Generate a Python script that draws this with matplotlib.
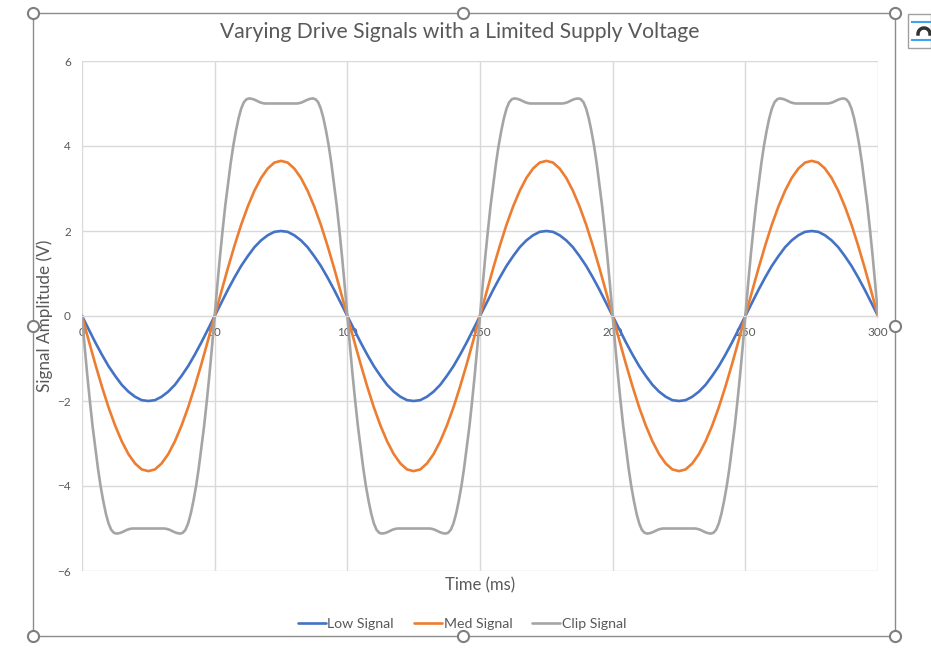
import matplotlib
matplotlib.use('Agg')
import matplotlib.pyplot as plt
import numpy as np
from matplotlib.lines import Line2D
from matplotlib.patches import Rectangle

plt.rcParams['font.family'] = ['Lato', 'DejaVu Sans']

# one half period (0..50 ms); the second half is the mirror with opposite sign
t_half_coarse = [0, 2.5, 5, 7.5, 10, 12.5, 15, 17.5, 20, 22.5, 25,
                 27.5, 30, 32.5, 35, 37.5, 40, 42.5, 45, 47.5, 50]
low_half = [0, -0.31, -0.62, -0.91, -1.18, -1.41, -1.62, -1.78, -1.90, -1.98, -2.0,
            -1.98, -1.90, -1.78, -1.62, -1.41, -1.18, -0.91, -0.62, -0.31, 0]
med_half = [0, -0.57, -1.13, -1.66, -2.15, -2.58, -2.95, -3.25, -3.47, -3.61, -3.65,
            -3.61, -3.47, -3.25, -2.95, -2.58, -2.15, -1.66, -1.13, -0.57, 0]

t_half_fine = list(range(0, 51))
clip_half = [0, -0.72, -1.40, -2.02, -2.60, -3.10, -3.58, -4.00, -4.35, -4.65,
             -4.88, -5.03, -5.10, -5.12, -5.11, -5.09, -5.06, -5.03, -5.01, -5.00,
             -5.00, -5.00, -5.00, -5.00, -5.00, -5.00, -5.00, -5.00, -5.00, -5.00,
             -5.00, -5.00, -5.01, -5.03, -5.06, -5.09, -5.11, -5.12, -5.10, -5.03,
             -4.88, -4.65, -4.35, -4.00, -3.58, -3.10, -2.60, -2.02, -1.40, -0.72, 0]

periods = 3
period_ms = 100

series_names = ['Low Signal', 'Med Signal', 'Clip Signal']
series_colors = ['#4472C4', '#ED7D31', '#A5A5A5']

title = 'Varying Drive Signals with a Limited Supply Voltage'
x_label = 'Time (ms)'
y_label = 'Signal Amplitude (V)'
x_ticks = [0, 50, 100, 150, 200, 250, 300]
y_ticks = [-6, -4, -2, 0, 2, 4, 6]


def full_wave(t_half, v_half):
    # build one period from the half, then repeat
    t_half = np.asarray(t_half, float)
    v_half = np.asarray(v_half, float)
    t_per = np.concatenate([t_half, t_half[1:] + t_half[-1]])
    v_per = np.concatenate([v_half, -v_half[1:]])
    ts, vs = [t_per], [v_per]
    for k in range(1, periods):
        ts.append(t_per[1:] + k * period_ms)
        vs.append(v_per[1:])
    return np.concatenate(ts), np.concatenate(vs)


W, H = 931, 671
fig = plt.figure(figsize=(W / 100, H / 100), dpi=100)


def fx(px):
    return px / W


def fy(py):
    return 1 - py / H


ax = fig.add_axes([fx(82), fy(571), fx(878) - fx(82), fy(61) - fy(571)])

for (th, vh), name, col in zip([(t_half_coarse, low_half),
                                (t_half_coarse, med_half),
                                (t_half_fine, clip_half)],
                               series_names, series_colors):
    t, v = full_wave(th, vh)
    ax.plot(t, v, color=col, lw=1.9, label=name, solid_capstyle='round')

grid_col = '#D9D9D9'
txt_col = '#595959'

ax.set_xlim(0, 300)
ax.set_ylim(-6, 6)
ax.set_xticks(x_ticks)
ax.set_yticks(y_ticks)
ax.grid(True, color=grid_col, lw=1.0)
ax.set_axisbelow(True)
for s in ['top', 'right', 'left']:
    ax.spines[s].set_visible(False)
ax.spines['bottom'].set_position(('data', 0))
ax.spines['bottom'].set_color(grid_col)
ax.tick_params(axis='both', length=0, labelsize=8.5, labelcolor=txt_col)
ax.tick_params(axis='x', pad=8)
ax.tick_params(axis='y', pad=8)

fig.text(fx(460), fy(32), title, ha='center', va='center', fontsize=15.2, color=txt_col)
fig.text(fx(480), fy(585), x_label, ha='center', va='center', fontsize=12, color=txt_col)
fig.text(fx(45), fy(316), y_label, ha='center', va='center', rotation=90,
         fontsize=12.3, color=txt_col)

fig.legend(loc='center', bbox_to_anchor=(fx(462), fy(624)), ncol=3, frameon=False,
           fontsize=10.2, labelcolor=txt_col, handlelength=2.0, handletextpad=0.1,
           columnspacing=1.4)

# selected-chart frame with handles
frame_col = '#8C8C8C'
fig.add_artist(Rectangle((fx(33), fy(636)), fx(895) - fx(33), fy(13) - fy(636),
                         transform=fig.transFigure, fill=False, ec=frame_col, lw=1.0))
hx = [33, 463, 895, 33, 895, 33, 463, 895]
hy = [13, 13, 13, 326, 326, 636, 636, 636]
fig.add_artist(Line2D([fx(x) for x in hx], [fy(y) for y in hy], transform=fig.transFigure,
                      ls='none', marker='o', ms=8, mfc='white', mec='#7F7F7F', mew=1.5))

# layout-options icon
fig.add_artist(Rectangle((fx(908), fy(48)), fx(931) - fx(908), fy(14) - fy(48),
                         transform=fig.transFigure, fill=True, fc='white', ec='#A0A0A0', lw=1.0))
for yy in [22, 40]:
    fig.add_artist(Line2D([fx(912), fx(931)], [fy(yy), fy(yy)], transform=fig.transFigure,
                          color='#41A5EE', lw=1.5))
arc_t = np.linspace(0, np.pi, 30)
fig.add_artist(Line2D(fx(924) + fx(6) * np.cos(arc_t), fy(34) + (fy(0) - fy(6)) * np.sin(arc_t),
                      transform=fig.transFigure, color='#333333', lw=2.5))

fig.savefig('out.png', dpi=100)
